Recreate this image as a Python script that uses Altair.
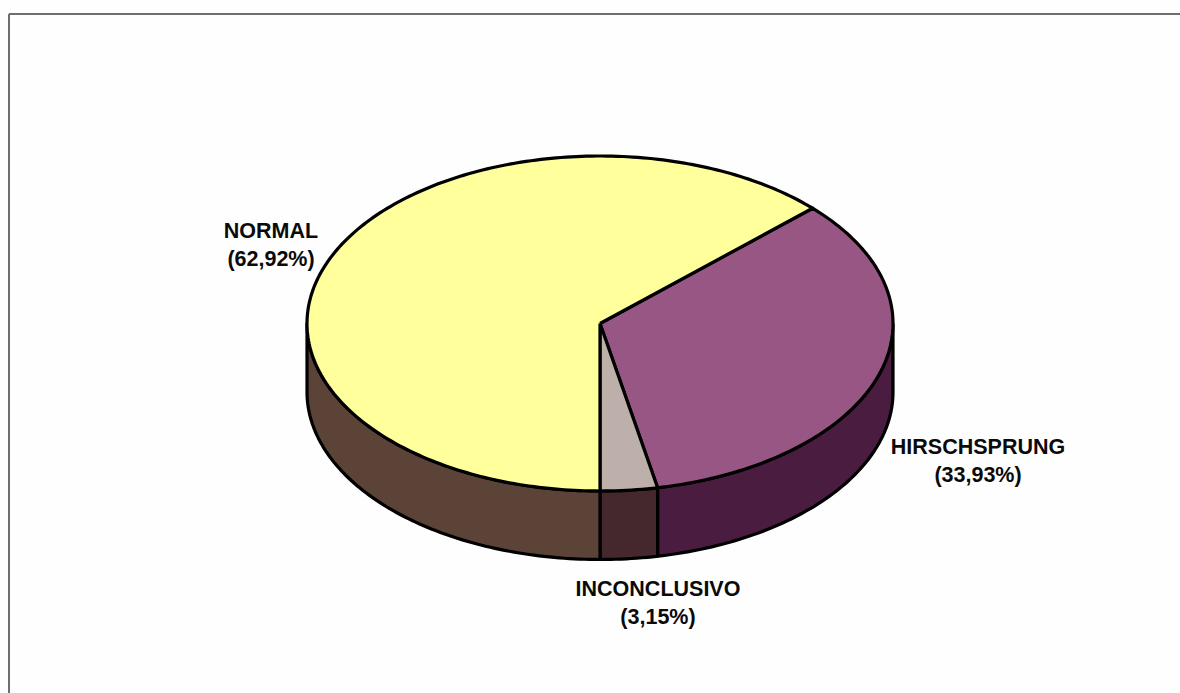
import math

import altair as alt
import pandas as pd

# Slice shares, in drawing order clockwise from the start angle
categories = ["HIRSCHSPRUNG", "INCONCLUSIVO", "NORMAL"]
shares = [33.93, 3.15, 62.92]
top_colors = ["#975683", "#BDB0AB", "#FFFF9C"]
side_colors = ["#4A1D40", "#44282E", "#5C4338"]

# Disc geometry in page units
CX, CY, RX, RY, DEPTH = 600.0, 323.5, 293.0, 167.5, 68.5
W, H = 1180, 693

# Label placement: centre x and first baseline per category
label_anchor = {
    "NORMAL": (271, 238),
    "HIRSCHSPRUNG": (978, 454),
    "INCONCLUSIVO": (658, 596),
}
LINE_STEP = 28


def rim(deg, drop=0.0):
    t = math.radians(deg)
    return CX + RX * math.sin(t), CY - RY * math.cos(t) + drop


def sweep(a, b, step=1.0):
    n = max(2, int(abs(b - a) / step) + 1)
    return [a + (b - a) * i / (n - 1) for i in range(n)]


# The front of the disc is closed off at 180 degrees by the last boundary
start = 180.0 - 3.6 * (shares[0] + shares[1])
spans = []
cursor = start
for share in shares:
    spans.append((cursor, cursor + 3.6 * share))
    cursor += 3.6 * share


def polygon_layer(points, fill):
    df = pd.DataFrame(points, columns=["x", "y"]).reset_index(names="seq")
    return (
        alt.Chart(df)
        .mark_line(fill=fill, stroke="#000000", strokeWidth=3.2, strokeJoin="round")
        .encode(
            x=alt.X("x:Q", scale=alt.Scale(domain=[0, W], nice=False, zero=False), axis=None),
            y=alt.Y("y:Q", scale=alt.Scale(domain=[H, 0], nice=False, zero=False), axis=None),
            order="seq:Q",
        )
    )


layers = []

# Side walls: only the part of each slice facing the viewer (90 to 270 degrees)
for (a, b), color in zip(spans, side_colors):
    lo, hi = max(a, 90.0), min(b, 270.0)
    if lo >= hi:
        continue
    arc = sweep(lo, hi)
    pts = [rim(d) for d in arc] + [rim(d, DEPTH) for d in reversed(arc)]
    pts.append(pts[0])
    layers.append(polygon_layer(pts, color))

# Top faces
for (a, b), color in zip(spans, top_colors):
    pts = [(CX, CY)] + [rim(d) for d in sweep(a, b)] + [(CX, CY)]
    layers.append(polygon_layer(pts, color))

# Two-line labels built from the shares
label_rows = []
for name, share in zip(categories, shares):
    lx, ly = label_anchor[name]
    label_rows.append({"x": lx, "y": ly, "text": name})
    label_rows.append({"x": lx, "y": ly + LINE_STEP, "text": f"({share:.2f}%)".replace(".", ",")})

labels = (
    alt.Chart(pd.DataFrame(label_rows))
    .mark_text(
        font="Liberation Sans",
        fontSize=21.5,
        fontWeight="bold",
        color="#0A0A0A",
        align="center",
        baseline="alphabetic",
    )
    .encode(
        x=alt.X("x:Q", scale=alt.Scale(domain=[0, W], nice=False, zero=False), axis=None),
        y=alt.Y("y:Q", scale=alt.Scale(domain=[H, 0], nice=False, zero=False), axis=None),
        text="text:N",
    )
)

# Frame: only the top and left edges of the box are visible
frame_top = alt.Chart(pd.DataFrame({"a": [0]})).mark_rule(color="#6E6E6E", strokeWidth=2).encode(
    x=alt.value(9), x2=alt.value(W), y=alt.value(14)
)
frame_left = alt.Chart(pd.DataFrame({"a": [0]})).mark_rule(color="#6E6E6E", strokeWidth=2).encode(
    x=alt.value(9), y=alt.value(14), y2=alt.value(H)
)

chart = (
    alt.layer(frame_top, frame_left, *layers, labels)
    .properties(width=W, height=H, padding=0, autosize=alt.AutoSizeParams(type="none"), background="#FEFEFE")
    .configure_view(stroke=None)
)

chart.save("out.html", embed_options={"renderer": "svg", "actions": False})
